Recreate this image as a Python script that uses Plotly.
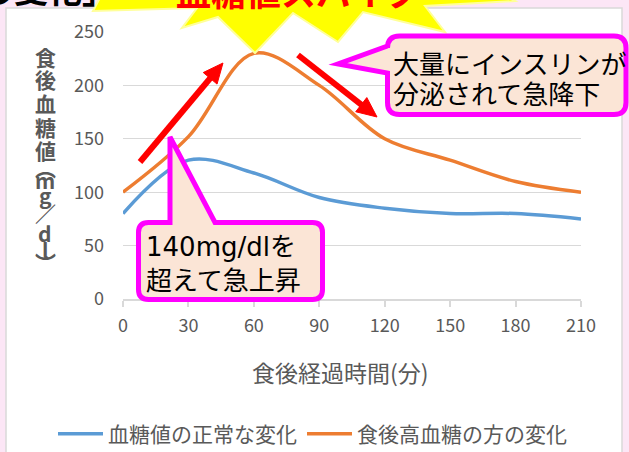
import math
import plotly.graph_objects as go

# ---------------- data ----------------
minutes = [0, 30, 60, 90, 120, 150, 180, 210]
normal_glucose = [80, 130, 118, 95, 85, 80, 80, 75]
spike_glucose = [100, 152, 230, 200, 150, 130, 110, 100]
series_names = ["血糖値の正常な変化", "食後高血糖の方の変化"]
x_ticks = [0, 30, 60, 90, 120, 150, 180, 210]
y_ticks = [0, 50, 100, 150, 200, 250]
x_title = "食後経過時間(分)"
y_title_chars = ["食", "後", "血", "糖", "値", "︵", "m", "g", "／", "d", "l", "︶"]
callout_rise = ["140mg/dlを", "超えて急上昇"]
callout_fall = ["大量にインスリンが", "分泌されて急降下"]
headline = "血糖値スパイク"
top_left_text = "の変化」"

# ---------------- layout geometry ----------------
W, H = 629, 452
L, R, T, B = 123, 48, 32, 153
PW, PH = W - L - R, H - T - B
FONT = "Noto Sans CJK JP"
GREY = "#595959"
MAGENTA = "#ff00ff"
PEACH = "#fbe5d6"


def px(x):
    return (x - L) / PW


def py(y):
    return (T + PH - y) / PH


def path_from(points_cmds):
    out = []
    for cmd, pts in points_cmds:
        s = cmd
        s += " ".join(f"{px(a):.5f},{py(b):.5f}" for a, b in pts)
        out.append(s)
    return " ".join(out) + " Z"


fig = go.Figure()
fig.add_trace(go.Scatter(x=minutes, y=normal_glucose, mode="lines", name=series_names[0],
                         line=dict(color="#5b9bd5", width=3.5, shape="spline", smoothing=1.0)))
fig.add_trace(go.Scatter(x=minutes, y=spike_glucose, mode="lines", name=series_names[1],
                         line=dict(color="#ed7d31", width=3.5, shape="spline", smoothing=1.0)))

shapes = []
# white chart box
shapes.append(dict(type="rect", xref="paper", yref="paper", x0=px(6), x1=px(622), y0=py(8), y1=py(470),
                   fillcolor="white", line=dict(color="#d9d9d9", width=1.5), layer="below"))

# starburst
star = [(120, -40), (93, 11), (197, 8), (182, 28), (218, 17), (255, 53), (293, 13), (338, 42),
        (363, 12), (445, 32), (425, 6), (515, 1), (440, -40)]
shapes.append(dict(type="path", xref="paper", yref="paper",
                   path=path_from([("M", [star[0]])] + [("L", [p]) for p in star[1:]]),
                   fillcolor="#ffff00", line=dict(color="#ffff99", width=2), layer="above"))


def callout_rect(x0, y0, x1, y1, r, pointer_side, pointer):
    cmds = [("M", [(x0 + r, y0)])]
    if pointer_side == "top":
        a, tip, b = pointer
        cmds += [("L", [a]), ("L", [tip]), ("L", [b])]
    cmds += [("L", [(x1 - r, y0)]), ("Q", [(x1, y0), (x1, y0 + r)]),
             ("L", [(x1, y1 - r)]), ("Q", [(x1, y1), (x1 - r, y1)]),
             ("L", [(x0 + r, y1)]), ("Q", [(x0, y1), (x0, y1 - r)])]
    if pointer_side == "left":
        a, tip, b = pointer
        cmds += [("L", [a]), ("L", [tip]), ("L", [b])]
    cmds += [("L", [(x0, y0 + r)]), ("Q", [(x0, y0), (x0 + r, y0)])]
    return path_from(cmds)


shapes.append(dict(type="path", xref="paper", yref="paper",
                   path=callout_rect(138.5, 222.5, 322.5, 299.5, 10, "top",
                                     [(170, 222.5), (170, 137), (215, 222.5)]),
                   fillcolor=PEACH, line=dict(color=MAGENTA, width=5), layer="above"))
shapes.append(dict(type="path", xref="paper", yref="paper",
                   path=callout_rect(387.5, 36, 626, 114.5, 12, "left",
                                     [(387.5, 73), (338, 64), (387.5, 46)]),
                   fillcolor=PEACH, line=dict(color=MAGENTA, width=5), layer="above"))


def arrow(tail, tip, head_len=20, half_w=9, width=6):
    dx, dy = tip[0] - tail[0], tip[1] - tail[1]
    n = math.hypot(dx, dy)
    ux, uy = dx / n, dy / n
    bx, by = tip[0] - head_len * ux, tip[1] - head_len * uy
    nx, ny = -uy, ux
    res = [dict(type="line", xref="paper", yref="paper", x0=px(tail[0]), y0=py(tail[1]),
                x1=px(bx + 2 * ux), y1=py(by + 2 * uy), line=dict(color="#ff0000", width=width),
                layer="above")]
    tri = [(tip[0], tip[1]), (bx + half_w * nx, by + half_w * ny), (bx - half_w * nx, by - half_w * ny)]
    res.append(dict(type="path", xref="paper", yref="paper",
                    path=path_from([("M", [tri[0]]), ("L", [tri[1]]), ("L", [tri[2]])]),
                    fillcolor="#ff0000", line=dict(color="#ff0000", width=1), layer="above"))
    return res


shapes += arrow((140, 162), (223, 63))
shapes += arrow((298, 55), (377, 117))

annotations = []
# headline pieces (cut by the top edge)
annotations.append(dict(xref="paper", yref="paper", x=px(298), y=py(18), xanchor="center", yanchor="bottom",
                        text=f"<b>{headline}</b>", showarrow=False,
                        font=dict(family=FONT, size=35, color="#ff0000")))
annotations.append(dict(xref="paper", yref="paper", x=px(118), y=py(15), xanchor="right", yanchor="bottom",
                        text=f"<b>{top_left_text}</b>", showarrow=False,
                        font=dict(family=FONT, size=34, color="#000000")))
# callout texts
annotations.append(dict(xref="paper", yref="paper", x=px(144), y=py(247), xanchor="left", yanchor="middle",
                        text=callout_rise[0], showarrow=False,
                        font=dict(family="DejaVu Sans, " + FONT, size=26, color="#000000")))
annotations.append(dict(xref="paper", yref="paper", x=px(144), y=py(278), xanchor="left", yanchor="middle",
                        text=callout_rise[1], showarrow=False,
                        font=dict(family=FONT, size=26, color="#000000")))
annotations.append(dict(xref="paper", yref="paper", x=px(391), y=py(62), xanchor="left", yanchor="middle",
                        text=callout_fall[0], showarrow=False,
                        font=dict(family=FONT, size=26, color="#000000")))
annotations.append(dict(xref="paper", yref="paper", x=px(391), y=py(92), xanchor="left", yanchor="middle",
                        text=callout_fall[1], showarrow=False,
                        font=dict(family=FONT, size=26, color="#000000")))
# x-axis title
annotations.append(dict(xref="paper", yref="paper", x=px(340), y=py(372), xanchor="center", yanchor="middle",
                        text=x_title, showarrow=False, font=dict(family=FONT, size=23, color=GREY)))
# y-axis title (vertical, one character per row)
y_pos = [57, 79, 103, 127, 150, 167, 180, 195, 213, 233, 250, 262]
for ch, yy in zip(y_title_chars, y_pos):
    annotations.append(dict(xref="paper", yref="paper", x=px(45), y=py(yy), xanchor="center", yanchor="middle",
                            text=f"<b>{ch}</b>", showarrow=False,
                            font=dict(family=FONT, size=21, color=GREY)))

fig.update_layout(
    width=W, height=H,
    margin=dict(l=L, r=R, t=T, b=B, autoexpand=False),
    paper_bgcolor="#fce6f6",
    plot_bgcolor="rgba(0,0,0,0)",
    font=dict(family=FONT, color=GREY),
    shapes=shapes,
    annotations=annotations,
    showlegend=True,
    legend=dict(orientation="h", x=px(53), y=py(434), xanchor="left", yanchor="middle",
                font=dict(family=FONT, size=21, color=GREY), bgcolor="rgba(0,0,0,0)",
                itemwidth=45, tracegroupgap=0),
    xaxis=dict(range=[0, 210], tickvals=x_ticks, ticktext=[str(v) for v in x_ticks],
               showgrid=False, zeroline=False, showline=True, linecolor="#d9d9d9", linewidth=1.5,
               ticks="outside", ticklen=6, tickcolor="#d9d9d9", tickwidth=1.5, ticklabelstandoff=4,
               tickfont=dict(family=FONT, size=18, color=GREY), fixedrange=True),
    yaxis=dict(range=[0, 250], tickvals=y_ticks, ticktext=[str(v) for v in y_ticks],
               showgrid=True, gridcolor="#d9d9d9", gridwidth=1.3, zeroline=False, showline=False,
               ticks="", ticklabelstandoff=18,
               tickfont=dict(family=FONT, size=18, color=GREY), fixedrange=True),
)

fig.write_html("out.html", config={"displayModeBar": False},
               post_script="document.body.style.margin='0';")
